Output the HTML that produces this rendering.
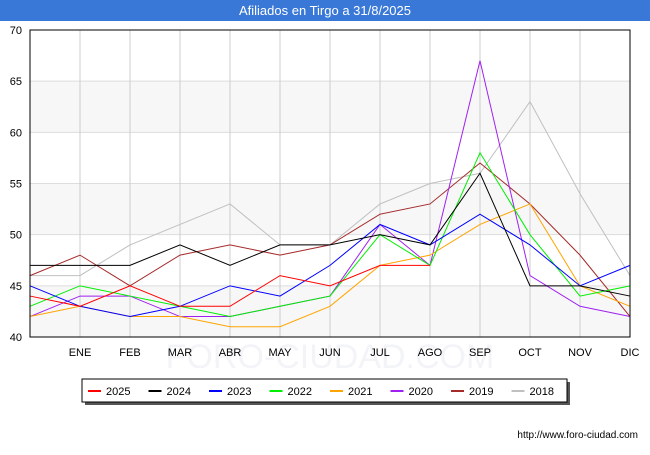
<!DOCTYPE html>
<html><head><meta charset="utf-8"><style>
body{margin:0;width:650px;height:450px;background:#fff;font-family:"Liberation Sans",sans-serif;overflow:hidden}
</style></head><body>
<svg width="650" height="450">
<rect x="0" y="0" width="650" height="21" fill="#3a78d8"/>
<text x="325" y="15" text-anchor="middle" fill="#fff" font-size="13">Afiliados en Tirgo a 31/8/2025</text>
<g id="plot"></g>
<text x="638" y="438" text-anchor="end" font-size="10" fill="#000">http://www.foro-ciudad.com</text>
</svg>
<script>
const months=["","ENE","FEB","MAR","ABR","MAY","JUN","JUL","AGO","SEP","OCT","NOV","DIC"];
const yTicks=[40,45,50,55,60,65,70];
const seriesNames=["2025","2024","2023","2022","2021","2020","2019","2018"];
const colors=["#ff0000","#000000","#0000ff","#00ee00","#ffa500","#a020f0","#a52a2a","#c0c0c0"];
const s2025=[44,43,45,43,43,46,45,47,47];
const s2024=[47,47,47,49,47,49,49,50,49,56,45,45,44];
const s2023=[45,43,42,43,45,44,47,51,49,52,49,45,47];
const s2022=[43,45,44,43,42,43,44,50,47,58,50,44,45];
const s2021=[42,43,42,42,41,41,43,47,48,51,53,45,43];
const s2020=[42,44,44,42,42,43,44,51,47,67,46,43,42];
const s2019=[46,48,45,48,49,48,49,52,53,57,53,48,42];
const s2018=[46,46,49,51,53,49,49,53,55,56,63,54,46];
const allSeries=[s2025,s2024,s2023,s2022,s2021,s2020,s2019,s2018];
const X0=30,X1=630,Y0=337,Y1=30;
const xs=i=>X0+i*(X1-X0)/12;
const ys=v=>Y0-(v-40)*(Y0-Y1)/30;
const NS="http://www.w3.org/2000/svg";
const g=document.getElementById('plot');
function mk(t,a){const e=document.createElementNS(NS,t);for(const k in a)e.setAttribute(k,a[k]);g.appendChild(e);return e;}
let e=mk('rect',{x:X0,y:Y1,width:X1-X0,height:Y0-Y1,fill:'#fff'});


for(let i=0;i<6;i+=2){e=mk('rect',{x:X0,y:ys(yTicks[i+1]),width:X1-X0,height:ys(yTicks[i])-ys(yTicks[i+1]),fill:'#f7f7f7'});

}
e=mk('text',{x:330,y:368,'text-anchor':'middle','font-size':34,fill:'#f3f4f8'});e.textContent='FORO-CIUDAD.COM';


yTicks.forEach(v=>{e=mk('line',{x1:X0,x2:X1,y1:ys(v),y2:ys(v),stroke:'#ddd'});


e=mk('text',{x:X0-8,y:ys(v)+4,'text-anchor':'end','font-size':11});e.textContent=v;

});
months.forEach((m,i)=>{if(i>0){e=mk('line',{x1:xs(i),x2:xs(i),y1:Y1,y2:Y0,stroke:'#ccc'});

}
e=mk('text',{x:xs(i),y:Y0+19,'text-anchor':'middle','font-size':11});e.textContent=m;

});
for(let k=allSeries.length-1;k>=0;k--){const d=allSeries[k];
e=mk('polyline',{points:d.map((v,i)=>xs(i)+','+ys(v)).join(' '),fill:'none',stroke:colors[k],'stroke-width':1});

}
e=mk('rect',{x:X0,y:Y1,width:X1-X0,height:Y0-Y1,fill:'none',stroke:'#000'});


e=mk('rect',{x:85,y:382,width:485,height:23,fill:'#555'});


e=mk('rect',{x:82,y:379,width:485,height:23,fill:'#fff',stroke:'#000'});


seriesNames.forEach((n,k)=>{const x=88+k*60.5;
e=mk('line',{x1:x,x2:x+13,y1:391,y2:391,stroke:colors[k],'stroke-width':2});


e=mk('text',{x:x+18,y:395,'font-size':11});e.textContent=n;

});
</script>
</body></html>
